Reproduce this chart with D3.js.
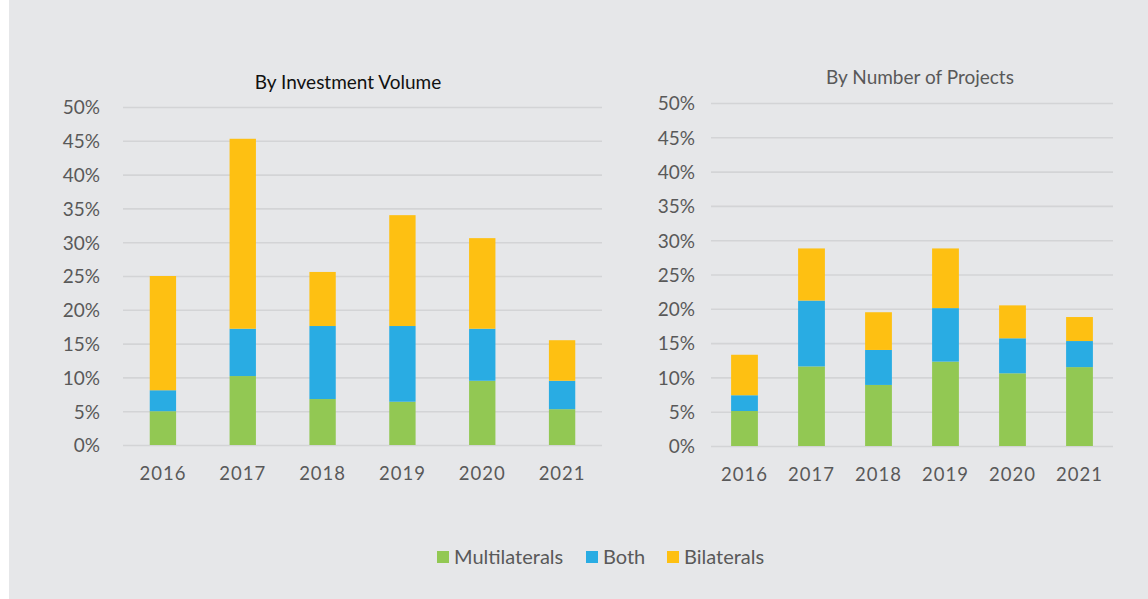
<!DOCTYPE html>
<html>
<head>
<meta charset="utf-8">
<script src="https://cdn.jsdelivr.net/npm/d3@7"></script>
<style>
  body { margin: 0; background: #ffffff; }
  svg text { font-family: Lato, "Noto Sans", sans-serif; }
  .tick-label { fill: #595959; font-size: 19px; }
  .year-label { fill: #595959; font-size: 18.5px; letter-spacing: 1px; }
  .chart-title { font-size: 19px; }
  .legend-text { fill: #595959; font-size: 20px; }
</style>
</head>
<body>
<div id="chart"></div>
<script>
// Data
var years = ['2016', '2017', '2018', '2019', '2020', '2021'];
var seriesNames = ['Multilaterals', 'Both', 'Bilaterals'];
var yTicks = [0, 0.05, 0.10, 0.15, 0.20, 0.25, 0.30, 0.35, 0.40, 0.45, 0.50];

// By Investment Volume (share per segment)
var volumeMultilaterals = [0.050, 0.102, 0.068, 0.064, 0.095, 0.053];
var volumeBoth = [0.031, 0.070, 0.108, 0.112, 0.077, 0.042];
var volumeBilaterals = [0.169, 0.281, 0.080, 0.164, 0.134, 0.060];

// By Number of Projects (share per segment)
var projectsMultilaterals = [0.051, 0.116, 0.089, 0.123, 0.106, 0.115];
var projectsBoth = [0.023, 0.096, 0.051, 0.078, 0.051, 0.038];
var projectsBilaterals = [0.059, 0.076, 0.055, 0.087, 0.048, 0.035];

var colors = {
    'Multilaterals': '#92c853',
    'Both': '#29ace3',
    'Bilaterals': '#fec012'
};

var width = 1148, height = 599;

var svg = d3.select('#chart').append('svg')
    .attr('width', width)
    .attr('height', height);

svg.append('rect')
    .attr('x', 9).attr('y', 0)
    .attr('width', width - 9).attr('height', height)
    .attr('fill', '#e6e7e9');

function buildRows(m, b, bi) {
    return years.map(function (y, i) {
        return { year: y, 'Multilaterals': m[i], 'Both': b[i], 'Bilaterals': bi[i] };
    });
}

function drawChart(cfg) {
    var g = svg.append('g');

    var x = d3.scaleBand()
        .domain(years)
        .range([cfg.left, cfg.right])
        .paddingInner(cfg.padding)
        .paddingOuter(cfg.padding / 2);

    var y = d3.scaleLinear()
        .domain([0, 0.5])
        .range([cfg.bottom, cfg.top]);

    // gridlines
    g.append('g')
        .attr('class', 'grid')
        .attr('transform', 'translate(' + cfg.left + ',0)')
        .call(d3.axisLeft(y).tickValues(yTicks)
            .tickSize(-(cfg.right - cfg.left))
            .tickFormat(''))
        .call(function (s) {
            s.select('.domain').remove();
            s.selectAll('line').attr('stroke', '#d3d4d6').attr('stroke-width', 1.6);
        });

    // y labels
    g.append('g')
        .attr('transform', 'translate(' + cfg.labelX + ',0)')
        .call(d3.axisLeft(y).tickValues(yTicks).tickSize(0).tickPadding(0)
            .tickFormat(d3.format('.0%')))
        .call(function (s) {
            s.select('.domain').remove();
            s.selectAll('text')
                .attr('class', 'tick-label')
                .attr('dy', '0.36em')
                .attr('font-size', null);
        });

    // stacked bars
    var stack = d3.stack().keys(seriesNames);
    var layers = stack(cfg.rows);

    g.selectAll('g.layer')
        .data(layers)
        .enter()
        .append('g')
        .attr('class', 'layer')
        .attr('fill', function (d) { return colors[d.key]; })
        .selectAll('rect')
        .data(function (d) { return d; })
        .enter()
        .append('rect')
        .attr('x', function (d) { return x(d.data.year); })
        .attr('width', x.bandwidth())
        .attr('y', function (d) { return y(d[1]); })
        .attr('height', function (d) { return y(d[0]) - y(d[1]); });

    // x labels
    g.append('g')
        .attr('transform', 'translate(0,' + cfg.bottom + ')')
        .call(d3.axisBottom(x).tickSize(0).tickPadding(0))
        .call(function (s) {
            s.select('.domain').remove();
            s.selectAll('text')
                .attr('class', 'year-label')
                .attr('y', cfg.yearY - cfg.bottom)
                .attr('dy', 0)
                .attr('font-size', null);
        });

    // title
    g.append('text')
        .attr('class', 'chart-title')
        .attr('x', cfg.titleX)
        .attr('y', cfg.titleY)
        .attr('text-anchor', 'middle')
        .attr('fill', cfg.titleColor)
        .text(cfg.title);
}

drawChart({
    rows: buildRows(volumeMultilaterals, volumeBoth, volumeBilaterals),
    left: 123, right: 602, top: 107, bottom: 445,
    padding: 0.67, labelX: 100, yearY: 480,
    title: 'By Investment Volume', titleX: 348, titleY: 89, titleColor: '#111111'
});

drawChart({
    rows: buildRows(projectsMultilaterals, projectsBoth, projectsBilaterals),
    left: 711, right: 1113, top: 103, bottom: 446,
    padding: 0.6, labelX: 695, yearY: 481,
    title: 'By Number of Projects', titleX: 920, titleY: 84, titleColor: '#595959'
});

// Legend
var legendItems = [
    { name: 'Multilaterals', x: 437 },
    { name: 'Both', x: 586 },
    { name: 'Bilaterals', x: 667 }
];

var legend = svg.append('g').attr('class', 'legend');
var item = legend.selectAll('g')
    .data(legendItems)
    .enter()
    .append('g')
    .attr('transform', function (d) { return 'translate(' + d.x + ',551)'; });

item.append('rect')
    .attr('width', 12).attr('height', 12)
    .attr('fill', function (d) { return colors[d.name]; });

item.append('text')
    .attr('class', 'legend-text')
    .attr('x', 17)
    .attr('y', 12.5)
    .text(function (d) { return d.name; });
</script>
</body>
</html>
